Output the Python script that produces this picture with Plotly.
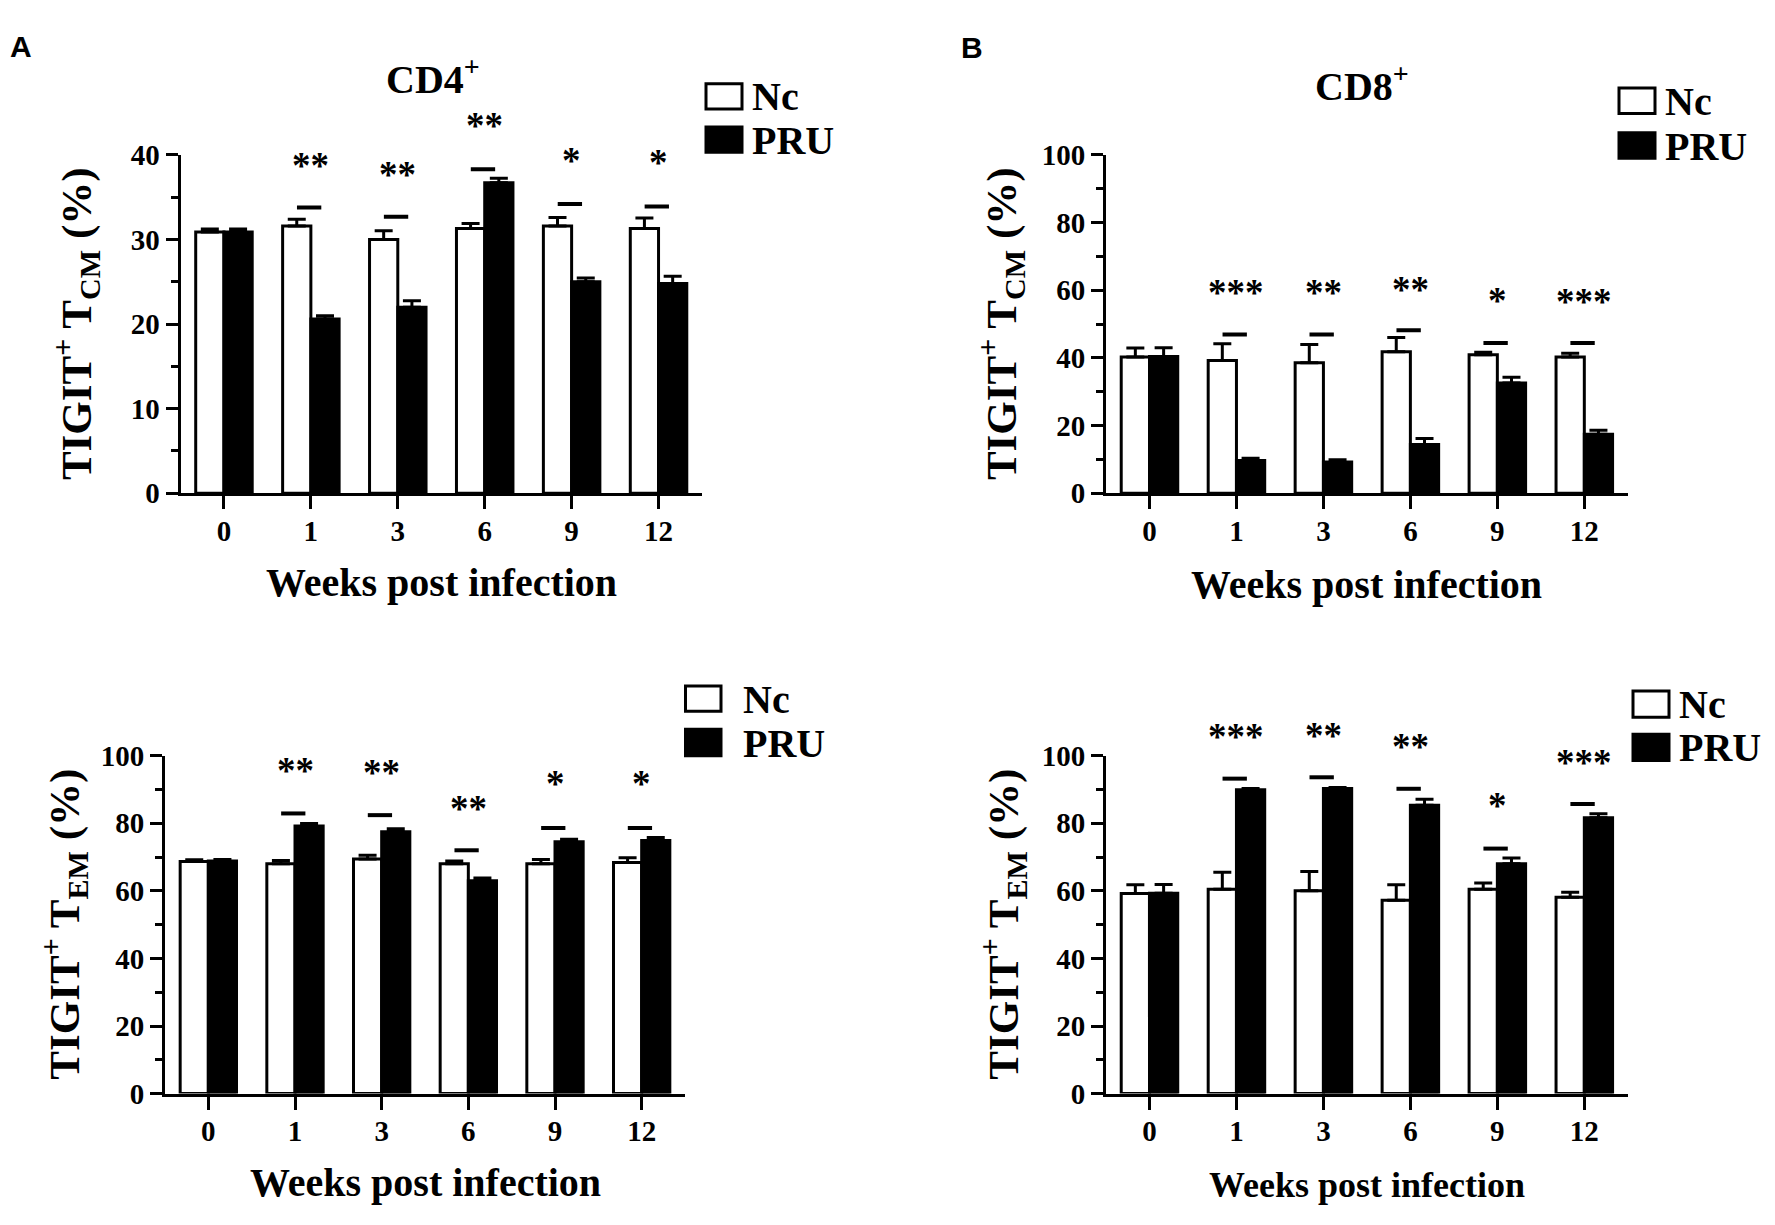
import plotly.graph_objects as go

# ---------------- data ----------------
weeks = ["0", "1", "3", "6", "9", "12"]
groups = ["Nc", "PRU"]
sig_idx = [1, 2, 3, 4, 5]

# A top: CD4+ TIGIT+ TCM (%)
a_tcm_nc = [30.9, 31.6, 30.0, 31.3, 31.6, 31.3]
a_tcm_nc_err = [0.35, 0.8, 1.05, 0.6, 1.0, 1.25]
a_tcm_pru = [30.9, 20.6, 22.0, 36.7, 25.0, 24.8]
a_tcm_pru_err = [0.35, 0.4, 0.75, 0.55, 0.45, 0.85]
a_tcm_sig_y = [33.8, 32.7, 38.3, 34.2, 33.9]
a_tcm_stars = ["**", "**", "**", "*", "*"]
a_tcm_star_y = [37.8, 36.8, 42.5, 38.4, 38.2]

# B top: CD8+ TIGIT+ TCM (%)
b_tcm_nc = [40.3, 39.2, 38.6, 41.8, 40.9, 40.3]
b_tcm_nc_err = [2.6, 5.0, 5.4, 4.2, 0.8, 1.1]
b_tcm_pru = [40.4, 9.7, 9.2, 14.4, 32.6, 17.4]
b_tcm_pru_err = [2.6, 0.6, 0.7, 1.8, 1.7, 1.2]
b_tcm_sig_y = [46.9, 46.9, 48.2, 44.4, 44.4]
b_tcm_stars = ["***", "**", "**", "*", "***"]
b_tcm_star_y = [57.0, 57.0, 58.0, 54.7, 54.4]

# A bottom: CD4+ TIGIT+ TEM (%)
a_tem_nc = [68.7, 68.0, 69.4, 68.0, 68.0, 68.4]
a_tem_nc_err = [0.5, 1.0, 1.1, 0.8, 1.3, 1.4]
a_tem_pru = [68.8, 79.2, 77.5, 63.0, 74.5, 74.9]
a_tem_pru_err = [0.5, 0.7, 0.9, 0.8, 0.8, 0.9]
a_tem_sig_y = [82.9, 82.4, 72.0, 78.6, 78.6]
a_tem_stars = ["**", "**", "**", "*", "*"]
a_tem_star_y = [93.1, 92.6, 82.1, 89.4, 89.4]

# B bottom: CD8+ TIGIT+ TEM (%)
b_tem_nc = [59.2, 60.5, 60.0, 57.2, 60.5, 58.1]
b_tem_nc_err = [2.6, 5.0, 5.7, 4.6, 1.8, 1.5]
b_tem_pru = [59.3, 89.9, 90.3, 85.3, 68.0, 81.6]
b_tem_pru_err = [2.6, 0.4, 0.3, 1.8, 1.7, 1.2]
b_tem_sig_y = [93.2, 93.6, 90.2, 72.5, 85.7]
b_tem_stars = ["***", "**", "**", "*", "***"]
b_tem_star_y = [103.4, 103.7, 100.3, 82.9, 95.5]

# ---------------- styling ----------------
W, H = 1775, 1225
SERIF = "Liberation Serif"
SANS = "Liberation Sans"


def px_x(v):
    return v / W


def px_y(v):
    return 1 - v / H


panels = [
    dict(nc=a_tcm_nc, nce=a_tcm_nc_err, pru=a_tcm_pru, prue=a_tcm_pru_err,
         sig=a_tcm_sig_y, stars=a_tcm_stars, star_y=a_tcm_star_y,
         ymax=40, dtick=10, xpx=(180.5, 702), ypx=(142.7, 490),
         ytitle="TIGIT<sup>+</sup> T<sub>CM</sub> (%)", ytx=76, xtitle_y=582, xtsize=40,
         leg=(706, 742, 69.5, 95.5, 114, 140, 751, 82.5, 127)),
    dict(nc=b_tcm_nc, nce=b_tcm_nc_err, pru=b_tcm_pru, prue=b_tcm_pru_err,
         sig=b_tcm_sig_y, stars=b_tcm_stars, star_y=b_tcm_star_y,
         ymax=100, dtick=20, xpx=(1106, 1627.8), ypx=(142.7, 490),
         ytitle="TIGIT<sup>+</sup> T<sub>CM</sub> (%)", ytx=1001, xtitle_y=584, xtsize=40,
         leg=(1619, 1655, 74, 100, 120, 146, 1664, 87, 133)),
    dict(nc=a_tem_nc, nce=a_tem_nc_err, pru=a_tem_pru, prue=a_tem_pru_err,
         sig=a_tem_sig_y, stars=a_tem_stars, star_y=a_tem_star_y,
         ymax=100, dtick=20, xpx=(165, 685), ypx=(759.5, 1106.5),
         ytitle="TIGIT<sup>+</sup> T<sub>EM</sub> (%)", ytx=65, xtitle_y=1198, xtsize=40,
         leg=(685.5, 721, 688, 714, 732.5, 759.5, 742, 701, 746)),
    dict(nc=b_tem_nc, nce=b_tem_nc_err, pru=b_tem_pru, prue=b_tem_pru_err,
         sig=b_tem_sig_y, stars=b_tem_stars, star_y=b_tem_star_y,
         ymax=100, dtick=20, xpx=(1106, 1627.8), ypx=(759.5, 1106.5),
         ytitle="TIGIT<sup>+</sup> T<sub>EM</sub> (%)", ytx=1004, xtitle_y=1200, xtsize=36,
         leg=(1633, 1669, 693, 720, 737.5, 764.5, 1678, 706.5, 751)),
]

fig = go.Figure()
layout = dict(
    width=W, height=H,
    margin=dict(l=0, r=0, t=0, b=0),
    paper_bgcolor="white", plot_bgcolor="white",
    barmode="group", bargap=0.35, bargroupgap=0.0,
    showlegend=False,
    font=dict(family=SERIF, color="black"),
)
annotations = []
shapes = []

cats = list(range(len(weeks)))

for k, p in enumerate(panels):
    sfx = "" if k == 0 else str(k + 1)
    xa, ya = "x" + sfx, "y" + sfx
    fig.add_trace(go.Bar(
        x=cats, y=p["nc"], name=groups[0], xaxis=xa, yaxis=ya,
        marker=dict(color="white", line=dict(color="black", width=3)),
        error_y=dict(type="data", symmetric=False, array=p["nce"],
                     arrayminus=[0] * len(cats), color="black", thickness=3, width=9),
    ))
    fig.add_trace(go.Bar(
        x=cats, y=p["pru"], name=groups[1], xaxis=xa, yaxis=ya,
        marker=dict(color="black", line=dict(color="black", width=3)),
        error_y=dict(type="data", symmetric=False, array=p["prue"],
                     arrayminus=[0] * len(cats), color="black", thickness=3, width=9),
    ))
    # significance bars
    sx, sy = [], []
    for i, v in zip(sig_idx, p["sig"]):
        sx += [i - 0.16, i + 0.12, None]
        sy += [v, v, None]
    fig.add_trace(go.Scatter(x=sx, y=sy, mode="lines", xaxis=xa, yaxis=ya,
                             line=dict(color="black", width=4), cliponaxis=False,
                             hoverinfo="skip"))
    # significance stars: y in axis-domain units (value / axis max) so that
    # stars above the axis top are still shown
    for i, v, s in zip(sig_idx, p["star_y"], p["stars"]):
        annotations.append(dict(
            text=s, xref=xa, yref=ya + " domain", x=i, y=v / p["ymax"],
            xanchor="center", yanchor="middle", yshift=8, showarrow=False,
            font=dict(family=SERIF, size=37, color="black", weight="bold"),
        ))

    x0, x1 = p["xpx"]
    y0, y1 = p["ypx"]
    layout["xaxis" + sfx] = dict(
        domain=[px_x(x0), px_x(x1)], anchor=ya, range=[-0.5, 5.5],
        tickvals=cats, ticktext=weeks,
        showline=True, linecolor="black", linewidth=3,
        ticks="outside", ticklen=13, tickwidth=3, tickcolor="black",
        ticklabelstandoff=-3,
        tickfont=dict(family=SERIF, size=29, color="black", weight="bold"),
        showgrid=False, zeroline=False, fixedrange=True,
    )
    layout["yaxis" + sfx] = dict(
        domain=[px_y(y1), px_y(y0)], anchor=xa, range=[0, p["ymax"]],
        dtick=p["dtick"], tick0=0,
        showline=True, linecolor="black", linewidth=3,
        ticks="outside", ticklen=12, tickwidth=3, tickcolor="black",
        ticklabelstandoff=0,
        minor=dict(dtick=p["dtick"] / 2, ticks="outside", ticklen=7, tickwidth=3,
                   tickcolor="black", showgrid=False),
        tickfont=dict(family=SERIF, size=29, color="black", weight="bold"),
        showgrid=False, zeroline=False, fixedrange=True,
    )
    # y title
    annotations.append(dict(
        text=p["ytitle"], textangle=-90, xref="paper", yref="paper",
        x=px_x(p["ytx"]), y=px_y((y0 + y1) / 2), xanchor="center", yanchor="middle",
        showarrow=False, font=dict(family=SERIF, size=43, color="black", weight="bold"),
    ))
    # x title
    annotations.append(dict(
        text="Weeks post infection", xref="paper", yref="paper",
        x=px_x((x0 + x1) / 2), y=px_y(p["xtitle_y"]), xanchor="center", yanchor="middle",
        showarrow=False, font=dict(family=SERIF, size=p["xtsize"], color="black", weight="bold"),
    ))
    # legend
    lx0, lx1, ny0, ny1, py0, py1, tx, nty, pty = p["leg"]
    shapes.append(dict(type="rect", xref="paper", yref="paper",
                       x0=px_x(lx0), x1=px_x(lx1), y0=px_y(ny1), y1=px_y(ny0),
                       line=dict(color="black", width=3), fillcolor="white"))
    shapes.append(dict(type="rect", xref="paper", yref="paper",
                       x0=px_x(lx0), x1=px_x(lx1), y0=px_y(py1), y1=px_y(py0),
                       line=dict(color="black", width=3), fillcolor="black"))
    for name, ty in zip(groups, [nty, pty]):
        annotations.append(dict(
            text=name, xref="paper", yref="paper", x=px_x(tx), y=px_y(ty),
            xanchor="left", yanchor="middle", showarrow=False,
            height=38, valign="middle", borderpad=0,
            font=dict(family=SERIF, size=40, color="black", weight="bold"),
        ))

# panel titles
annotations.append(dict(text="CD4<sup>+</sup>", xref="paper", yref="paper",
                        x=px_x(433), y=px_y(62), xanchor="center", yanchor="middle",
                        showarrow=False,
                        font=dict(family=SERIF, size=40, color="black", weight="bold")))
annotations.append(dict(text="CD8<sup>+</sup>", xref="paper", yref="paper",
                        x=px_x(1362), y=px_y(69), xanchor="center", yanchor="middle",
                        showarrow=False,
                        font=dict(family=SERIF, size=40, color="black", weight="bold")))
# panel letters
annotations.append(dict(text="A", xref="paper", yref="paper",
                        x=px_x(21), y=px_y(31), xanchor="center", yanchor="middle",
                        showarrow=False,
                        font=dict(family=SANS, size=30, color="black", weight="bold")))
annotations.append(dict(text="B", xref="paper", yref="paper",
                        x=px_x(972), y=px_y(32), xanchor="center", yanchor="middle",
                        showarrow=False,
                        font=dict(family=SANS, size=30, color="black", weight="bold")))

layout["annotations"] = annotations
layout["shapes"] = shapes
fig.update_layout(**layout)
fig.write_html(
    "out.html",
    config={"displayModeBar": False},
    post_script="document.body.style.margin='0px';document.body.style.overflow='hidden';",
)
